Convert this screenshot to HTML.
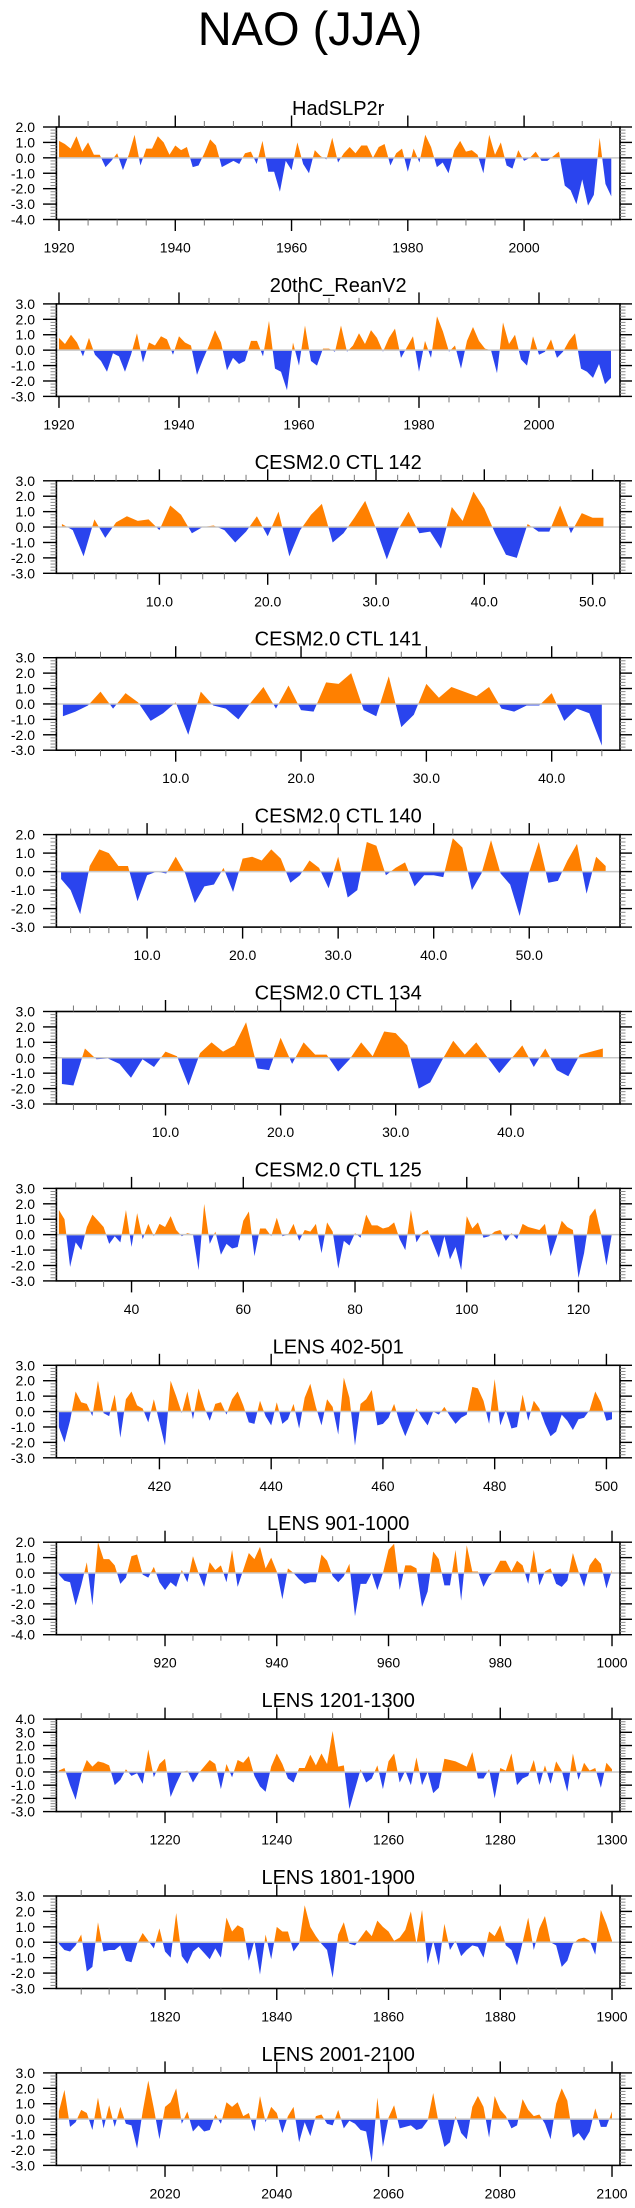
<!DOCTYPE html>
<html><head><meta charset="utf-8"><style>
html,body{margin:0;padding:0;background:#fff;}
svg{display:block;font-family:"Liberation Sans",Arial,sans-serif;}
</style></head><body>
<svg id="chart" width="635" height="2208" viewBox="0 0 635 2208" xmlns="http://www.w3.org/2000/svg">
<text x="310" y="45" font-size="47" text-anchor="middle" fill="#000">NAO (JJA)</text>
</svg>
<script>
// ---- data arrays ----
const hadslpStart = 1920;
const hadslpValues = [1.1,0.9,0.6,1.4,0.4,1.0,0.2,0.2,-0.6,-0.2,0.3,-0.8,0.2,1.5,-0.5,0.6,0.6,1.4,1.0,0.2,0.8,0.5,0.7,-0.6,-0.5,0.3,1.2,0.8,-0.6,-0.4,-0.2,-0.4,0.3,0.4,-0.4,1.1,-0.9,-0.9,-2.2,-0.2,-0.8,1.0,-0.4,-1.0,0.5,0.1,-0.1,1.3,-0.3,0.3,0.7,0.3,0.8,0.8,0.0,0.7,0.9,-0.5,0.3,0.6,-0.9,0.6,-0.3,1.5,0.7,-0.6,-0.3,-1.0,0.5,1.1,0.4,0.5,0.2,-1.0,1.5,0.2,1.0,-0.5,-0.7,0.5,-0.2,0.0,0.4,-0.2,-0.2,0.1,0.4,-1.8,-2.1,-3.0,-1.4,-3.1,-2.4,1.3,-1.7,-2.5];
const reanStart = 1920;
const reanValues = [0.8,0.4,1.0,0.5,-0.4,0.8,-0.3,-0.7,-1.4,-0.2,-0.4,-1.4,-0.3,1.1,-0.8,0.5,0.3,0.9,0.7,-0.3,0.9,0.5,0.3,-1.6,-0.6,0.3,1.3,0.5,-1.3,-0.5,-0.9,-0.7,0.6,0.6,-0.4,1.9,-1.2,-1.4,-2.6,0.5,-1.0,1.6,-0.7,-1.0,0.1,0.1,-0.1,1.6,-0.1,0.3,1.1,0.4,1.3,0.8,-0.1,0.8,1.4,-0.5,0.2,0.9,-1.4,0.6,-0.5,2.2,1.2,-0.1,0.3,-1.2,0.6,1.5,0.6,0.1,0.0,-1.5,1.8,0.4,1.0,-0.6,-1.0,0.9,-0.3,-0.1,0.7,-0.5,-0.1,0.6,1.1,-1.2,-1.4,-1.8,-0.9,-2.2,-1.8];
const ctl142Values = [0.2,-0.2,-1.9,0.5,-0.7,0.3,0.7,0.4,0.5,-0.2,1.4,0.8,-0.4,0.0,0.1,-0.2,-1.0,-0.3,0.7,-0.6,1.0,-1.9,-0.2,0.8,1.5,-1.0,-0.4,0.6,1.7,-0.1,-2.1,-0.2,1.0,-0.4,-0.3,-1.4,1.3,0.4,2.3,1.2,-0.4,-1.8,-2.0,0.2,-0.3,-0.3,1.4,-0.4,0.9,0.6,0.6];
const ctl141Values = [-0.8,-0.5,-0.1,0.8,-0.3,0.7,0.1,-1.1,-0.6,0.1,-2.0,0.8,-0.1,-0.3,-1.0,0.1,1.1,-0.3,1.2,-0.4,-0.5,1.4,1.3,2.0,-0.4,-0.8,1.8,-1.5,-0.7,1.3,0.4,1.1,0.8,0.5,1.1,-0.3,-0.5,-0.1,-0.1,0.7,-1.1,-0.3,-0.6,-2.7];
const ctl140Values = [-0.4,-1.0,-2.3,0.3,1.2,1.0,0.3,0.3,-1.6,-0.2,0.0,-0.1,0.8,-0.1,-1.7,-0.8,-0.7,0.2,-1.1,0.7,0.8,0.6,1.2,0.7,-0.6,-0.2,0.6,0.2,-0.9,0.8,-1.4,-1.0,1.6,1.4,-0.2,0.2,0.5,-0.8,-0.2,-0.2,-0.3,1.8,1.3,-1.0,-0.1,1.7,-0.1,-0.7,-2.4,0.0,1.6,-0.6,-0.5,0.6,1.5,-1.2,0.8,0.3];
const ctl134Values = [-1.7,-1.8,0.6,-0.1,-0.05,-0.4,-1.3,-0.1,-0.6,0.4,0.1,-1.8,0.3,1.0,0.4,0.8,2.3,-0.7,-0.8,1.3,-0.4,1.0,0.2,0.2,-0.9,-0.1,1.0,0.1,1.7,1.6,0.8,-2.0,-1.6,-0.2,1.1,0.2,1.0,0.0,-1.0,-0.1,0.8,-0.6,0.6,-0.8,-1.2,0.2,0.4,0.6];
const ctl125Start = 27;
const ctl125Values = [1.6,1.0,-2.1,-0.5,-1.0,0.5,1.3,0.9,0.5,-0.6,-0.1,-0.5,1.6,-0.8,1.4,-0.3,0.7,-0.1,0.7,0.5,1.2,0.3,-0.1,0.1,0.0,-2.3,2.0,-0.6,0.2,-1.3,-0.6,-0.9,-0.8,0.9,1.5,-1.4,0.4,0.4,-0.1,1.1,-0.1,0.0,0.7,-0.4,0.3,0.2,0.7,-1.2,0.8,0.2,-2.2,-0.4,-0.7,0.1,-0.2,1.3,0.6,0.6,0.4,0.5,0.8,-0.3,-1.0,1.6,-0.5,0.1,0.3,-0.6,-1.5,-0.1,-1.6,-0.8,-2.3,1.2,0.4,0.8,-0.2,-0.1,0.2,0.3,-0.4,0.1,-0.3,0.7,0.5,0.4,0.3,0.7,-1.4,-0.3,0.9,0.5,0.3,-2.8,-1.2,1.2,1.7,0.1,-2.0,0.1];
const lens402Start = 402;
const lens402Values = [-1.0,-2.0,-0.6,1.3,0.6,0.5,-0.3,2.0,-0.1,-0.3,1.1,-1.7,0.8,1.3,0.4,0.2,-0.7,0.8,-0.7,-2.2,2.0,1.0,-0.1,1.3,-0.5,1.5,0.3,-0.6,0.5,0.6,-0.2,0.8,1.3,0.4,-0.7,-0.8,0.7,-0.3,-0.9,0.6,-0.8,-0.5,0.5,-1.1,0.9,1.8,0.3,-0.9,0.8,0.3,-1.5,2.2,0.9,-2.2,0.5,0.8,1.4,-0.9,-0.8,-0.4,0.5,-0.7,-1.6,-0.7,0.2,-0.4,-0.9,0.0,-0.2,0.3,-0.3,-0.8,-0.4,-0.2,1.6,1.5,0.7,-0.8,2.1,-0.9,0.1,-1.1,-1.0,1.1,-0.6,0.7,0.2,-0.8,-1.6,-1.3,-0.2,-0.6,-1.2,-0.5,-0.4,0.1,1.3,0.6,-0.6,-0.5];
const lens901Start = 901;
const lens901Values = [-0.1,-0.5,-0.6,-2.1,-0.8,0.7,-2.1,2.0,0.9,0.9,0.5,-0.7,-0.3,1.1,1.2,-0.1,-0.3,0.4,-0.6,-1.1,-0.6,-0.9,0.2,-0.6,1.1,0.0,-0.9,0.7,0.2,0.5,-0.6,1.5,-0.9,0.2,1.3,0.9,1.7,0.3,1.0,0.1,-1.7,0.3,0.0,-0.4,-0.7,-0.6,-0.6,1.2,0.8,-0.2,-0.6,-0.2,0.6,-2.8,-0.7,-0.7,0.0,-1.1,0.0,1.5,1.9,-1.1,0.5,0.5,0.3,-2.2,-1.2,1.4,0.9,-0.8,-0.8,1.5,-1.8,1.8,0.1,0.1,-0.9,-0.2,0.1,0.8,0.8,0.1,0.8,0.5,-0.7,1.5,-0.8,0.1,0.3,-0.7,-0.9,-0.5,1.3,0.1,-0.9,0.5,1.0,0.6,-1.0,0.2];
const lens1201Start = 1201;
const lens1201Values = [0.1,0.3,-1.0,-2.1,-0.2,0.9,0.4,0.8,0.7,0.5,-1.0,-0.6,0.2,-0.3,-0.1,-0.9,1.7,-0.4,0.6,1.0,-1.9,-0.9,0.0,0.1,-0.8,-0.1,0.4,0.9,0.6,-1.3,0.6,-0.4,0.9,0.7,1.2,-0.3,-1.1,-1.5,0.4,1.4,0.6,-0.5,-0.8,0.3,0.3,1.3,0.5,1.4,0.6,3.1,0.4,0.5,-2.8,-1.3,0.2,-0.8,-0.5,0.5,-1.3,0.8,1.4,-0.8,0.1,-1.0,1.1,-1.0,0.0,-1.6,-1.2,1.0,0.9,0.8,0.6,0.4,1.5,-0.5,-0.5,0.2,-2.0,0.3,0.1,1.4,-1.0,-0.5,-0.3,0.9,-1.0,0.5,-0.9,0.8,0.1,-1.5,1.4,-0.6,0.7,0.1,0.3,-1.2,0.7,0.2];
const lens1801Start = 1801;
const lens1801Values = [-0.1,-0.5,-0.6,-0.2,0.5,-1.9,-1.6,1.3,-0.6,-0.5,-0.5,-0.2,-1.2,-1.3,-0.1,0.6,0.1,-0.4,0.9,-0.6,-1.0,1.9,-0.9,-1.4,-0.6,-0.3,-0.7,-1.1,-0.4,-1.0,1.6,0.7,1.1,0.9,-1.2,0.1,-2.1,0.5,-1.1,1.0,0.7,0.7,-0.6,-0.1,2.4,1.0,0.4,-0.1,-0.5,-2.3,0.5,1.3,-0.1,-0.2,0.3,0.8,0.4,1.4,1.0,0.7,0.1,0.3,0.8,2.0,-0.1,2.1,-1.4,0.1,-1.5,1.2,-0.5,0.1,-0.9,-0.5,-0.2,-0.3,-1.0,0.7,0.4,1.1,-0.2,-0.5,-1.5,0.0,1.6,-0.5,0.9,1.7,0.0,-0.2,-1.6,-1.2,-0.1,0.2,0.3,0.1,-0.8,2.1,1.2,0.1];
const lens2001Start = 2001;
const lens2001Values = [0.5,1.9,-0.5,-0.2,0.6,0.4,-0.7,1.4,-0.6,0.9,-0.5,0.8,-0.3,-0.4,-1.9,0.5,2.5,0.7,-1.3,0.8,1.1,2.0,-0.3,0.5,-0.8,-0.4,-0.8,-0.7,0.3,-0.3,1.1,0.8,1.1,0.2,0.4,-0.8,1.5,-0.2,0.8,0.4,-0.9,0.2,0.8,-1.5,-0.2,-1.1,0.2,0.3,-0.3,-0.4,0.6,-0.6,-0.1,-0.3,-0.7,-0.8,-2.8,1.4,-1.8,0.1,0.9,-0.6,-0.5,-0.4,-0.7,-0.6,-0.1,1.7,-0.3,-1.8,-1.5,0.2,-0.9,-1.3,0.8,1.5,0.8,-1.2,1.5,0.6,0.2,-0.6,-0.4,1.3,0.6,0.2,0.3,-0.3,-1.3,1.0,2.0,1.2,-1.2,-0.9,-1.4,-0.8,0.7,-0.5,-0.5,0.5];
const panelTitles = ["HadSLP2r","20thC_ReanV2","CESM2.0 CTL 142","CESM2.0 CTL 141","CESM2.0 CTL 140","CESM2.0 CTL 134","CESM2.0 CTL 125","LENS 402-501","LENS 901-1000","LENS 1201-1300","LENS 1801-1900","LENS 2001-2100"];
const yMaxes = [2,3,3,3,2,3,3,3,2,4,3,3];
const yMins = [-4,-3,-3,-3,-3,-3,-3,-3,-4,-3,-3,-3];

const NS = "http://www.w3.org/2000/svg";
const svg = document.getElementById('chart');
function mk(tag, attrs, parent){const e=document.createElementNS(NS,tag);for(const k in attrs)e.setAttribute(k,attrs[k]);(parent||svg).appendChild(e);return e;}

const panels = [
 {vals:hadslpValues,start:hadslpStart,lo:1919.55,hi:2016.5,major:20,minor:5,dec:0,slug:'hadslp2r'},
 {vals:reanValues,start:reanStart,lo:1919.57,hi:2013.5,major:20,minor:5,dec:0,slug:'20thc-reanv2'},
 {vals:ctl142Values,start:1,lo:0.49,hi:52.53,major:10,minor:2,dec:1,slug:'ctl-142'},
 {vals:ctl141Values,start:1,lo:0.48,hi:45.45,major:10,minor:2,dec:1,slug:'ctl-141'},
 {vals:ctl140Values,start:1,lo:0.51,hi:59.5,major:10,minor:2,dec:1,slug:'ctl-140'},
 {vals:ctl134Values,start:1,lo:0.52,hi:49.49,major:10,minor:2,dec:1,slug:'ctl-134'},
 {vals:ctl125Values,start:ctl125Start,lo:26.55,hi:127.43,major:20,minor:5,dec:0,slug:'ctl-125'},
 {vals:lens402Values,start:lens402Start,lo:401.56,hi:502.43,major:20,minor:5,dec:0,slug:'lens-402-501'},
 {vals:lens901Values,start:lens901Start,lo:900.56,hi:1001.43,major:20,minor:5,dec:0,slug:'lens-901-1000'},
 {vals:lens1201Values,start:lens1201Start,lo:1200.56,hi:1301.43,major:20,minor:5,dec:0,slug:'lens-1201-1300'},
 {vals:lens1801Values,start:lens1801Start,lo:1800.56,hi:1901.43,major:20,minor:5,dec:0,slug:'lens-1801-1900'},
 {vals:lens2001Values,start:lens2001Start,lo:2000.56,hi:2101.43,major:20,minor:5,dec:0,slug:'lens-2001-2100'}
];
const L=56.4, R=620, H=92.5;
panels.forEach((p,k)=>{
  const top = 127 + 176.9*k, bot = top + H;
  const ymax=yMaxes[k], ymin=yMins[k];
  const xs = t => L + (t - p.lo)/(p.hi - p.lo)*(R-L);
  const ys = v => top + (ymax - v)/(ymax - ymin)*H;
  const g = mk('g',{});
  
  
  const t = mk('text',{x:(L+R)/2,y:top-12,'font-size':20,'text-anchor':'middle',fill:'#000'},g);
  t.textContent = panelTitles[k];
  
  
  // area
  const y0 = ys(0);
  let pts = xs(p.start).toFixed(2)+','+y0.toFixed(2)+' ';
  p.vals.forEach((v,i)=>{pts += xs(p.start+i).toFixed(2)+','+ys(v).toFixed(2)+' ';});
  pts += xs(p.start+p.vals.length-1).toFixed(2)+','+y0.toFixed(2);
  const cpA='clipA'+k, cpB='clipB'+k;
  const defs = mk('defs',{},g);
  const ca = mk('clipPath',{id:cpA},defs); mk('rect',{x:L,y:top,width:R-L,height:y0-top},ca);
  const cb = mk('clipPath',{id:cpB},defs); mk('rect',{x:L,y:y0,width:R-L,height:bot-y0},cb);
  const pos = mk('polygon',{points:pts,fill:'#ff8000','clip-path':'url(#'+cpA+')'},g);
  
  
  const neg = mk('polygon',{points:pts,fill:'#2a44ee','clip-path':'url(#'+cpB+')'},g);
  
  
  const zl = mk('line',{x1:L,x2:R,y1:y0,y2:y0,stroke:'#c8c8c8','stroke-width':1.5},g);
  
  
  const box = mk('rect',{x:L,y:top,width:R-L,height:H,fill:'none',stroke:'#000','stroke-width':1.6},g);
  
  
  // y ticks
  for(let v10=Math.round(ymin*10); v10<=Math.round(ymax*10); v10+=2){
    const v=v10/10, y=ys(v), maj=(v10%10===0);
    mk('line',{x1:maj?43:50.5,x2:L,y1:y,y2:y,stroke:maj?'#000':'#888','stroke-width':maj?1.4:1},g);
    mk('line',{x1:R,x2:maj?632:625.5,y1:y,y2:y,stroke:maj?'#000':'#888','stroke-width':maj?1.4:1},g);
    if(maj){
      const tl = mk('text',{x:35,y:y+5,'font-size':14,'text-anchor':'end',fill:'#000'},g);
      tl.textContent = v.toFixed(1);
      
      
    }
  }
  // x ticks
  for(let tv=Math.ceil(p.lo/p.minor)*p.minor; tv<=p.hi; tv+=p.minor){
    const x=xs(tv), maj=(Math.round(tv)%p.major===0);
    const len = maj?11.5:6;
    mk('line',{x1:x,x2:x,y1:bot,y2:bot+len,stroke:maj?'#000':'#777','stroke-width':maj?1.4:1},g);
    mk('line',{x1:x,x2:x,y1:top,y2:top-len,stroke:maj?'#000':'#777','stroke-width':maj?1.4:1},g);
    if(maj){
      const xl = mk('text',{x:x,y:bot+33,'font-size':14,'text-anchor':'middle',fill:'#000'},g);
      xl.textContent = p.dec ? tv.toFixed(1) : String(tv);
      
      
    }
  }
});
</script>
</body></html>
